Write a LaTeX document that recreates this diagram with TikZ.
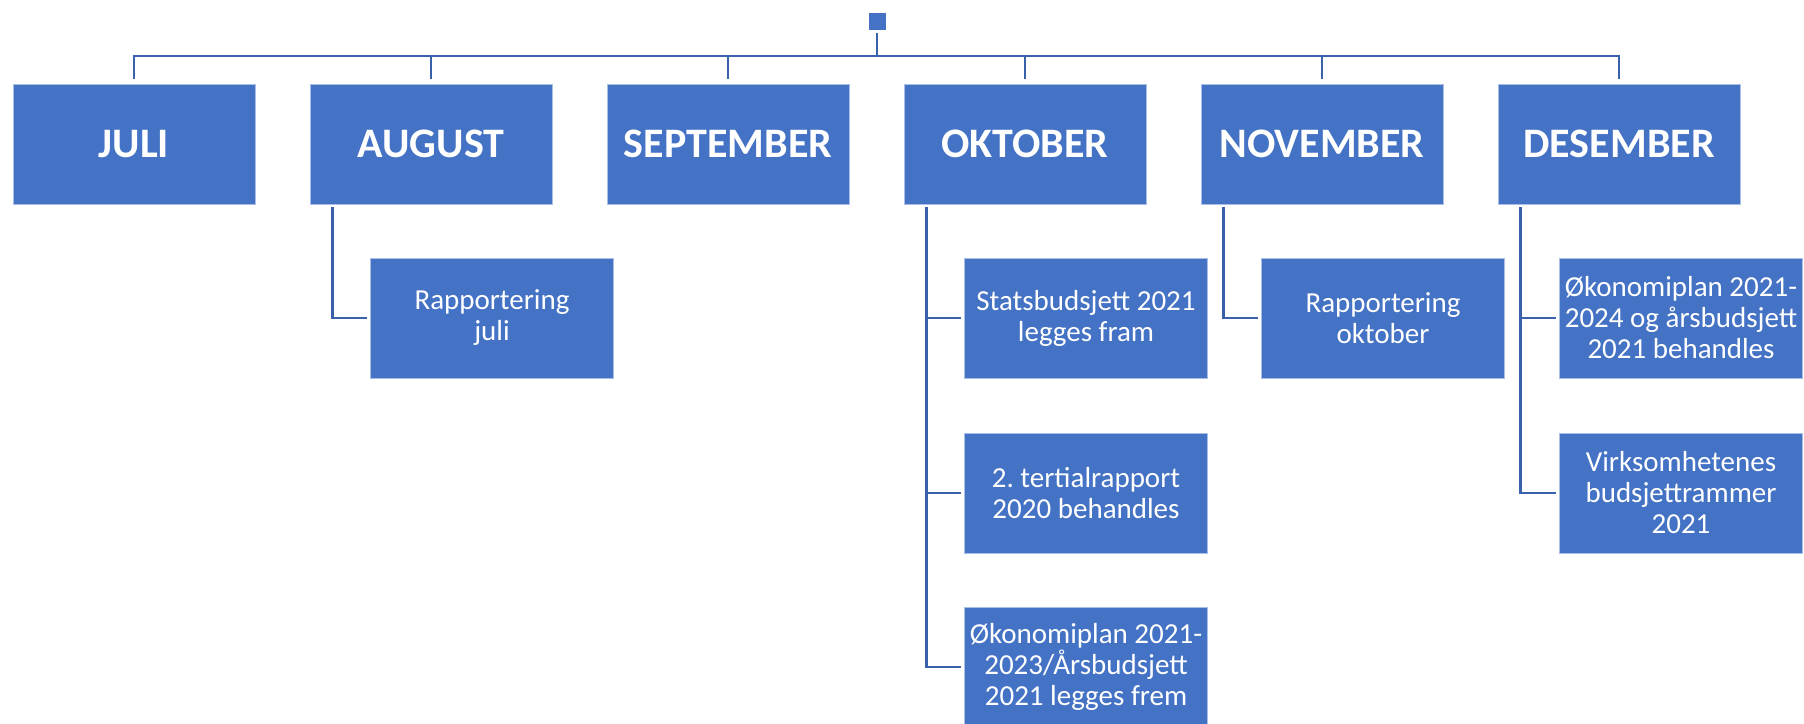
\documentclass[tikz,border=0pt]{standalone}
\usepackage{fontspec}
\setmainfont{Carlito}
\frenchspacing
\definecolor{boxblue}{HTML}{4472C4}
\definecolor{linkblue}{HTML}{3A62AC}
\definecolor{edgeblue}{HTML}{A9BFE6}
\tikzset{
  monthbox/.style={fill=boxblue, draw=edgeblue, line width=0.8pt, minimum width=242pt, minimum height=120pt, inner sep=0pt, text=white, font=\bfseries\fontsize{42}{44}\selectfont},
  childbox/.style={fill=boxblue, draw=edgeblue, line width=0.8pt, minimum width=243pt, minimum height=120pt, inner sep=2pt, align=center, text=white, font=\fontsize{29}{31}\selectfont},
  rootbox/.style={fill=boxblue, draw=none, minimum width=17pt, minimum height=17pt, inner sep=0pt},
  link/.style={draw=linkblue, line width=2.8pt}
}
\begin{document}
\begin{tikzpicture}[x=1pt,y=-1pt]
\useasboundingbox (0,0) rectangle (1804,723);
\node[rootbox] (root) at (877,21) {};
\coordinate (bus) at (877,56);
\foreach \n/\x/\t in {jul/134/JULI, aug/431/AUGUST, sep/728/SEPTEMBER, okt/1025/OKTOBER, nov/1322/NOVEMBER, des/1619/DESEMBER}{
  \node[monthbox] (\n) at (\x,144) {\t};
}
\node[childbox] (aug1) at (492,318) {Rapportering\\juli};
\node[childbox] (okt1) at (1086,318) {Statsbudsjett 2021\\legges fram};
\node[childbox] (okt2) at (1086,493) {2. tertialrapport\\2020 behandles};
\node[childbox] (okt3) at (1086,667) {Økonomiplan 2021-\\2023/Årsbudsjett\\2021 legges frem};
\node[childbox] (nov1) at (1383,318) {Rapportering\\oktober};
\node[childbox] (des1) at (1681,318) {Økonomiplan 2021-\\2024 og årsbudsjett\\2021 behandles};
\node[childbox] (des2) at (1681,493) {Virksomhetenes\\budsjettrammer\\2021};
\draw[link] ([yshift=-3pt]root.south) -- (bus);
\foreach \n in {jul,aug,sep,okt,nov,des}{
  \draw[link] (bus) -| ([yshift=5pt]\n.north);
}
\foreach \p/\c in {aug/aug1, okt/okt1, okt/okt2, okt/okt3, nov/nov1, des/des1, des/des2}{
  \draw[link] ([xshift=23pt,yshift=-3pt]\p.south west) |- ([xshift=-3pt]\c.west);
}
\end{tikzpicture}
\end{document}
